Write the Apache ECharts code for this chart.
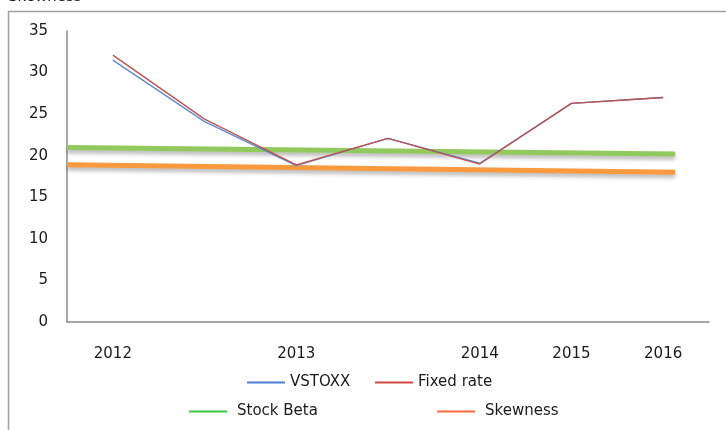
<!DOCTYPE html>
<html>
<head>
<meta charset="utf-8">
<script src="https://cdn.jsdelivr.net/npm/echarts@6/dist/echarts.min.js"></script>
<style>
  html, body { margin: 0; padding: 0; background: #fff; }
  #chart { width: 726px; height: 430px; }
</style>
</head>
<body>
<div id="chart"></div>
<script>
// data
var categories = ['2012', '', '2013', '', '2014', '2015', '2016'];
var vstoxx = [31.5, 24.1, 18.8, 22.1, 19.1, 26.3, 27.0];
var fixedRate = [32.1, 24.4, 18.9, 22.1, 19.0, 26.3, 27.0];
// trend lines run from the left axis edge to just past the last point
var trendX = [-0.5, 6.13];
var stockBeta = [21.0, 20.2];
var skewness = [18.9, 18.0];

var font = 'DejaVu Sans';
var chart = echarts.init(document.getElementById('chart'));

function legendAt(name, color, left, top, gap) {
  return {
    left: left, top: top, padding: 0,
    icon: 'rect', itemWidth: 38, itemHeight: 2,
    selectedMode: false,
    textStyle: { fontFamily: font, fontSize: 15, color: '#1a1a1a', padding: [0, 0, 0, gap] },
    data: [{ name: name, itemStyle: { color: color }, lineStyle: { color: color } }]
  };
}

chart.setOption({
  animation: false,
  grid: { left: 67, right: 17, top: 31, bottom: 108 },
  graphic: [
    { type: 'rect', shape: { x: 8.5, y: 11.5, width: 800, height: 500 },
      style: { fill: 'none', stroke: '#a0a0a0', lineWidth: 1.5 }, silent: true },
    { type: 'text', left: 8, top: -10,
      style: { text: 'Skewness', fontFamily: font, fontSize: 15, fill: '#1a1a1a' }, silent: true }
  ],
  legend: [
    legendAt('VSTOXX', '#4f7fd0', 247, 375, 0),
    legendAt('Fixed rate', '#d04a45', 375, 375, 0),
    legendAt('Stock Beta', '#3cc83c', 189, 404, 5),
    legendAt('Skewness', '#ff6a3d', 437, 404, 5)
  ],
  xAxis: [
    {
      type: 'category', data: categories, boundaryGap: true,
      axisLine: { lineStyle: { color: '#8a8a8a', width: 1.5 } },
      axisTick: { show: false },
      axisLabel: { fontFamily: font, fontSize: 15, color: '#1a1a1a', margin: 25, interval: 0 }
    },
    { type: 'value', min: -0.5, max: 6.5, show: false }
  ],
  yAxis: {
    type: 'value', min: 0, max: 35, interval: 5,
    splitLine: { show: false },
    axisLine: { show: true, onZero: false, lineStyle: { color: '#8a8a8a', width: 1.5 } },
    axisTick: { show: false },
    axisLabel: { fontFamily: font, fontSize: 15, color: '#1a1a1a', margin: 19 }
  },
  series: [
    {
      name: 'VSTOXX', type: 'line', data: vstoxx, xAxisIndex: 0,
      showSymbol: false, lineStyle: { color: '#5b8bd0', width: 1.3 }, itemStyle: { color: '#5b8bd0' }
    },
    {
      name: 'Fixed rate', type: 'line', data: fixedRate, xAxisIndex: 0,
      showSymbol: false, lineStyle: { color: '#c0504d', width: 1.3 }, itemStyle: { color: '#c0504d' }
    },
    {
      name: 'Stock Beta', type: 'line', xAxisIndex: 1, z: 1,
      data: trendX.map(function (x, i) { return [x, stockBeta[i]]; }),
      showSymbol: false, itemStyle: { color: '#92c95c' },
      lineStyle: { color: '#92c95c', width: 5, shadowColor: 'rgba(0,0,0,0.3)', shadowBlur: 4, shadowOffsetY: 3 }
    },
    {
      name: 'Skewness', type: 'line', xAxisIndex: 1, z: 1,
      data: trendX.map(function (x, i) { return [x, skewness[i]]; }),
      showSymbol: false, itemStyle: { color: '#f99a3e' },
      lineStyle: { color: '#f99a3e', width: 5, shadowColor: 'rgba(0,0,0,0.3)', shadowBlur: 4, shadowOffsetY: 3 }
    }
  ]
});
</script>
</body>
</html>
